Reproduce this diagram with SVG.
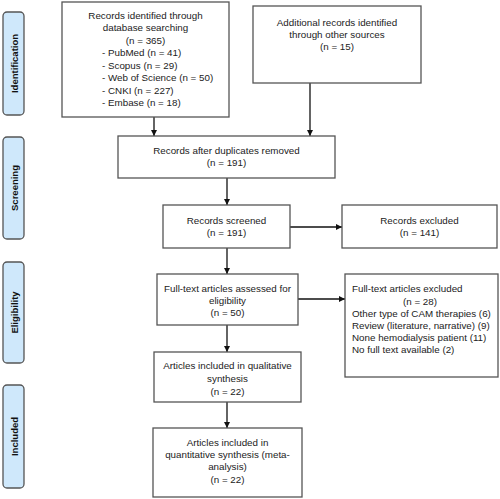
<svg xmlns="http://www.w3.org/2000/svg" width="500" height="499" viewBox="0 0 500 499">
<style>
.box{fill:#fff;stroke:#555;stroke-width:1.3}
.side{fill:#cfe8fb;stroke:#555;stroke-width:1.3}
.t{font-family:"Liberation Sans",Arial,sans-serif;font-size:9.8px;fill:#222}
.c{text-anchor:middle}
.s{font-family:"Liberation Sans",Arial,sans-serif;font-size:9.5px;font-weight:bold;fill:#111;text-anchor:middle}
.ln{stroke:#111;stroke-width:1.3;fill:none;marker-end:url(#ah)}
</style>
<defs>
<marker id="ah" viewBox="0 0 10 10" refX="10" refY="5" markerWidth="6" markerHeight="6" markerUnits="userSpaceOnUse" orient="auto">
<path d="M0,0 L10,5 L0,10 z" fill="#111"/>
</marker>
</defs>
<g id="side-identification"><rect class="side" x="3" y="12" width="21" height="103" rx="4"/><text class="s" transform="translate(17.5,63.5) rotate(-90)">Identification</text></g>
<g id="side-screening"><rect class="side" x="3" y="137" width="21" height="102" rx="4"/><text class="s" transform="translate(17.5,188) rotate(-90)">Screening</text></g>
<g id="side-eligibility"><rect class="side" x="3" y="262" width="21" height="101" rx="4"/><text class="s" transform="translate(17.5,312.5) rotate(-90)">Eligibility</text></g>
<g id="side-included"><rect class="side" x="3" y="385" width="21" height="103" rx="4"/><text class="s" transform="translate(17.5,436.5) rotate(-90)">Included</text></g>
<g id="connectors">
<line class="ln" x1="154" y1="117" x2="154" y2="136"/>
<line class="ln" x1="310" y1="83" x2="310" y2="136"/>
<line class="ln" x1="227" y1="178" x2="227" y2="205"/>
<line class="ln" x1="290" y1="227" x2="342" y2="227"/>
<line class="ln" x1="227" y1="248" x2="227" y2="274"/>
<line class="ln" x1="298" y1="299" x2="345" y2="299"/>
<line class="ln" x1="227" y1="325" x2="227" y2="352"/>
<line class="ln" x1="227" y1="402" x2="227" y2="428"/>
</g>
<g id="n-identified"><rect class="box" x="62" y="2" width="167" height="115"/>
<text class="t c" x="145.5" y="19">Records identified through</text>
<text class="t c" x="145.5" y="31">database searching</text>
<text class="t c" x="145.5" y="43.5">(n =  365)</text>
<text class="t" x="102" y="56">- PubMed (n = 41)</text>
<text class="t" x="102" y="68.5">- Scopus (n = 29)</text>
<text class="t" x="102" y="81">- Web of Science (n = 50)</text>
<text class="t" x="102" y="93.5"> - CNKI (n = 227)</text>
<text class="t" x="102" y="106"> - Embase (n = 18)</text>
</g>
<g id="n-additional"><rect class="box" x="253" y="6" width="168" height="77"/>
<text class="t c" x="337" y="26">Additional records identified</text>
<text class="t c" x="337" y="38">through other sources</text>
<text class="t c" x="337" y="50">(n = 15)</text>
</g>
<g id="n-dupremoved"><rect class="box" x="118" y="136" width="217" height="42"/>
<text class="t c" x="226.5" y="154">Records after duplicates removed</text>
<text class="t c" x="226.5" y="166">(n = 191)</text>
</g>
<g id="n-screened"><rect class="box" x="163" y="205" width="127" height="43"/>
<text class="t c" x="226.5" y="224">Records screened</text>
<text class="t c" x="226.5" y="236">(n = 191)</text>
</g>
<g id="n-excluded"><rect class="box" x="342" y="205" width="155" height="43"/>
<text class="t c" x="419.5" y="224">Records excluded</text>
<text class="t c" x="419.5" y="236">(n = 141)</text>
</g>
<g id="n-fulltext"><rect class="box" x="157" y="274" width="141" height="51"/>
<text class="t c" x="227.5" y="292">Full-text articles assessed for</text>
<text class="t c" x="227.5" y="304">eligibility</text>
<text class="t c" x="227.5" y="316">(n = 50)</text>
</g>
<g id="n-ftexcluded"><rect class="box" x="345" y="274" width="153" height="103"/>
<text class="t" x="352" y="292">Full-text articles excluded</text>
<text class="t c" x="420" y="304.5">(n = 28)</text>
<text class="t" x="352" y="317">Other type of CAM therapies (6)</text>
<text class="t" x="352" y="329">Review (literature, narrative) (9)</text>
<text class="t" x="352" y="341">None hemodialysis patient (11)</text>
<text class="t" x="352" y="353">No full text available (2)</text>
</g>
<g id="n-qualitative"><rect class="box" x="154" y="352" width="147" height="50"/>
<text class="t c" x="227.5" y="369">Articles included in qualitative</text>
<text class="t c" x="227.5" y="382">synthesis</text>
<text class="t c" x="227.5" y="394.5">(n = 22)</text>
</g>
<g id="n-quantitative"><rect class="box" x="153" y="428" width="149" height="69"/>
<text class="t c" x="227.5" y="446">Articles included in</text>
<text class="t c" x="227.5" y="458">quantitative synthesis (meta-</text>
<text class="t c" x="227.5" y="470">analysis)</text>
<text class="t c" x="227.5" y="482.5">(n = 22)</text>
</g>
</svg>
